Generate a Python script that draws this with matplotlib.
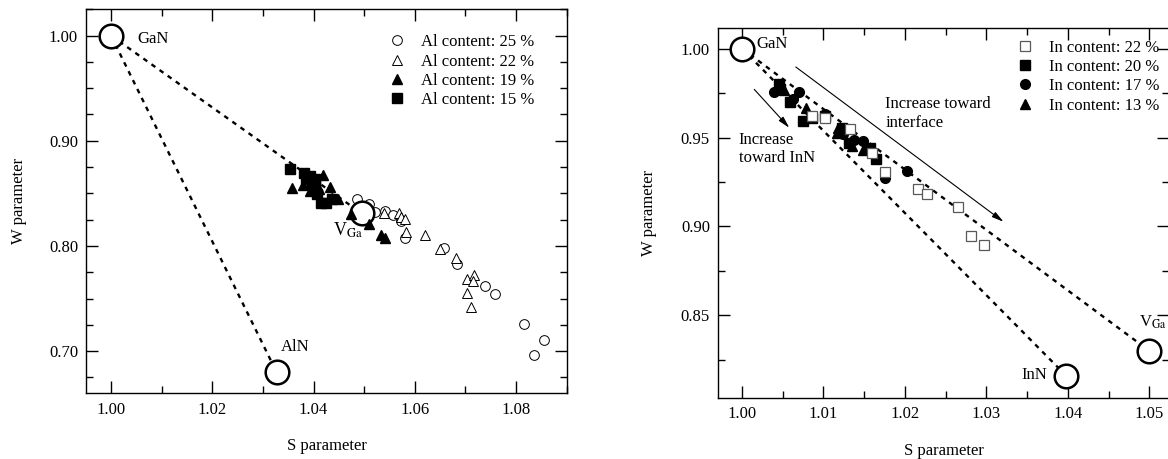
import matplotlib
matplotlib.use("Agg")
import matplotlib.pyplot as plt

plt.rcParams['font.family'] = ['Liberation Serif', 'DejaVu Serif']
plt.rcParams['mathtext.fontset'] = 'stix'

# ---- left panel: Al content ----
al25_s = [1.0486, 1.0509, 1.0521, 1.0542, 1.0557, 1.0573, 1.0580, 1.0657, 1.0683, 1.0738, 1.0759, 1.0816, 1.0836, 1.0855]
al25_w = [0.845, 0.840, 0.832, 0.8335, 0.829, 0.824, 0.8077, 0.7983, 0.7832, 0.7619, 0.7544, 0.7258, 0.6962, 0.7103]
al22_s = [1.0540, 1.0568, 1.0573, 1.0580, 1.0582, 1.0620, 1.0649, 1.0681, 1.0703, 1.0716, 1.0715, 1.0703, 1.0710]
al22_w = [0.8313, 0.8313, 0.8272, 0.8256, 0.8137, 0.810, 0.7967, 0.7886, 0.7685, 0.7722, 0.7666, 0.7556, 0.7424]
al19_s = [1.0358, 1.0418, 1.0433, 1.0448, 1.0392, 1.0411, 1.0510, 1.0534, 1.0542, 1.0473, 1.0380]
al19_w = [0.8555, 0.8671, 0.8564, 0.8445, 0.852, 0.854, 0.8209, 0.810, 0.8077, 0.8303, 0.858]
al15_s = [1.0354, 1.0381, 1.0385, 1.0396, 1.0403, 1.0400, 1.0407, 1.0414, 1.0425, 1.0436, 1.0392, 1.0402]
al15_w = [0.8728, 0.8696, 0.8633, 0.8602, 0.8633, 0.8539, 0.8492, 0.8413, 0.8413, 0.8445, 0.8665, 0.857]
al_labels = ['Al content: 25 %', 'Al content: 22 %', 'Al content: 19 %', 'Al content: 15 %']

gan = (1.00, 1.00)
aln = (1.0327, 0.680)
vga_left = (1.0495, 0.831)

# ---- right panel: In content ----
in22_s = [1.0086, 1.0102, 1.0133, 1.0159, 1.0176, 1.0216, 1.0227, 1.0265, 1.0281, 1.0297]
in22_w = [0.9624, 0.9608, 0.9546, 0.9414, 0.9307, 0.9213, 0.9185, 0.9110, 0.8945, 0.8894]
in20_s = [1.0045, 1.0059, 1.0075, 1.0086, 1.0123, 1.0131, 1.0157, 1.0165, 1.0047, 1.0102]
in20_w = [0.9803, 0.9700, 0.9593, 0.9610, 0.9555, 0.9467, 0.9442, 0.9377, 0.9775, 0.9620]
in17_s = [1.0039, 1.0070, 1.0063, 1.0102, 1.0137, 1.0149, 1.0176, 1.0203, 1.0124]
in17_w = [0.9756, 0.9756, 0.9718, 0.9630, 0.9484, 0.9480, 0.9273, 0.9311, 0.9520]
in13_s = [1.0047, 1.0078, 1.0118, 1.0116, 1.0135, 1.0148, 1.0052]
in13_w = [0.9786, 0.9668, 0.9555, 0.9527, 0.9452, 0.9430, 0.9770]
in_labels = ['In content: 22 %', 'In content: 20 %', 'In content: 17 %', 'In content: 13 %']

inn = (1.0398, 0.816)
vga_right = (1.050, 0.830)

fs = 12
big = dict(marker='o', ms=17, mew=1.8, mfc='white', mec='black', ls='none', zorder=2)
dash = dict(color='black', lw=1.7, ls=(0, (2.0, 2.2)), zorder=1)


def style_axes(ax):
    ax.tick_params(which='both', direction='in', top=True, right=True, labelsize=fs, width=1.0)
    ax.tick_params(which='major', length=8.5, pad=6)
    ax.tick_params(which='minor', length=5)
    for sp in ax.spines.values():
        sp.set_linewidth(1.0)


fig = plt.figure(figsize=(11.68, 4.59), dpi=100)

# left
ax1 = fig.add_axes([0.0740, 0.1431, 0.4112, 0.8366])
ax1.plot([gan[0], aln[0]], [gan[1], aln[1]], **dash)
ax1.plot([gan[0], vga_left[0]], [gan[1], vga_left[1]], **dash)
ax1.plot([gan[0], aln[0]], [gan[1], aln[1]], **big)
# V_Ga circle sits on top of the data cloud
ax1.plot([vga_left[0]], [vga_left[1]], marker='o', ms=17, mew=1.8, mfc='white', mec='black', ls='none', zorder=3.5)
ax1.plot(al25_s, al25_w, 'o', ms=7, mfc='white', mec='black', mew=0.7, label=al_labels[0], zorder=3)
ax1.plot(al22_s, al22_w, '^', ms=7, mfc='white', mec='black', mew=0.7, label=al_labels[1], zorder=3)
ax1.plot(al19_s, al19_w, '^', ms=7, color='black', label=al_labels[2], zorder=4)
ax1.plot(al15_s, al15_w, 's', ms=6.5, color='black', label=al_labels[3], zorder=3)
ax1.text(1.0053, 0.9969, 'GaN', fontsize=fs, ha='left', va='center')
ax1.text(1.0335, 0.7044, 'AlN', fontsize=fs, ha='left', va='center')
ax1.text(1.0438, 0.815, r'V$_{\mathrm{Ga}}$', fontsize=fs + 1, ha='left', va='center')
ax1.set_xlim(0.99514, 1.08976)
ax1.set_ylim(0.6599, 1.0211)
ax1.set_xticks([1.00, 1.02, 1.04, 1.06, 1.08])
ax1.set_xticks([1.01, 1.03, 1.05, 1.07, 1.09], minor=True)
ax1.set_yticks([0.70, 0.80, 0.90, 1.00])
ax1.set_yticks([0.675, 0.725, 0.75, 0.775, 0.825, 0.85, 0.875, 0.925, 0.95, 0.975, 1.025], minor=True)
ax1.set_xticklabels(['1.00', '1.02', '1.04', '1.06', '1.08'])
ax1.set_yticklabels(['0.70', '0.80', '0.90', '1.00'])
ax1.set_xlabel('S parameter', fontsize=fs, labelpad=15)
ax1.set_ylabel('W parameter', fontsize=fs, labelpad=16)
style_axes(ax1)
ax1.legend(loc='upper left', bbox_to_anchor=(0.630, 0.935), frameon=False, fontsize=fs,
           handlelength=1.0, handletextpad=0.9, borderpad=0, borderaxespad=0, labelspacing=0.2)

# right
ax2 = fig.add_axes([0.6150, 0.1329, 0.3859, 0.8068])
ax2.plot([gan[0], inn[0]], [gan[1], inn[1]], **dash)
ax2.plot([gan[0], vga_right[0]], [gan[1], vga_right[1]], **dash)
ax2.plot([gan[0], inn[0], vga_right[0]], [gan[1], inn[1], vga_right[1]], **big)
ax2.plot(in22_s, in22_w, 's', ms=7, mfc='white', mec='0.35', mew=0.9, label=in_labels[0], zorder=4)
ax2.plot(in20_s, in20_w, 's', ms=7, color='black', label=in_labels[1], zorder=3)
ax2.plot(in17_s, in17_w, 'o', ms=7, color='black', label=in_labels[2], zorder=3)
ax2.plot(in13_s, in13_w, '^', ms=7, color='black', label=in_labels[3], zorder=3)
arrow = dict(arrowstyle='-|>,head_length=0.7,head_width=0.18', color='black', lw=0.8, shrinkA=0, shrinkB=0)
ax2.annotate('', xy=(1.0321, 0.9026), xytext=(1.0066, 0.9897), arrowprops=arrow)
ax2.annotate('', xy=(1.0058, 0.9555), xytext=(1.0015, 0.9771), arrowprops=arrow)
ax2.text(1.0176, 0.9636, 'Increase toward\ninterface', fontsize=fs, ha='left', va='center', linespacing=1.2)
ax2.text(0.9996, 0.9437, 'Increase\ntoward InN', fontsize=fs, ha='left', va='center', linespacing=1.2)
ax2.text(1.0018, 1.0024, 'GaN', fontsize=fs, ha='left', va='center')
ax2.text(1.0375, 0.8166, 'InN', fontsize=fs, ha='right', va='center')
ax2.text(1.0487, 0.846, r'V$_{\mathrm{Ga}}$', fontsize=fs, ha='left', va='center')
ax2.set_xlim(0.99709, 1.05242)
ax2.set_ylim(0.8035, 1.0118)
ax2.set_xticks([1.00, 1.01, 1.02, 1.03, 1.04, 1.05])
ax2.set_xticks([1.005, 1.015, 1.025, 1.035, 1.045], minor=True)
ax2.set_yticks([0.85, 0.90, 0.95, 1.00])
ax2.set_yticks([0.825, 0.875, 0.925, 0.975], minor=True)
ax2.set_xticklabels(['1.00', '1.01', '1.02', '1.03', '1.04', '1.05'])
ax2.set_yticklabels(['0.85', '0.90', '0.95', '1.00'])
ax2.set_xlabel('S parameter', fontsize=fs, labelpad=15)
ax2.set_ylabel('W parameter', fontsize=fs, labelpad=17)
style_axes(ax2)
ax2.legend(loc='upper left', bbox_to_anchor=(0.663, 0.968), frameon=False, fontsize=fs,
           handlelength=1.0, handletextpad=0.9, borderpad=0, borderaxespad=0, labelspacing=0.2)

fig.savefig('out.png', dpi=100)
